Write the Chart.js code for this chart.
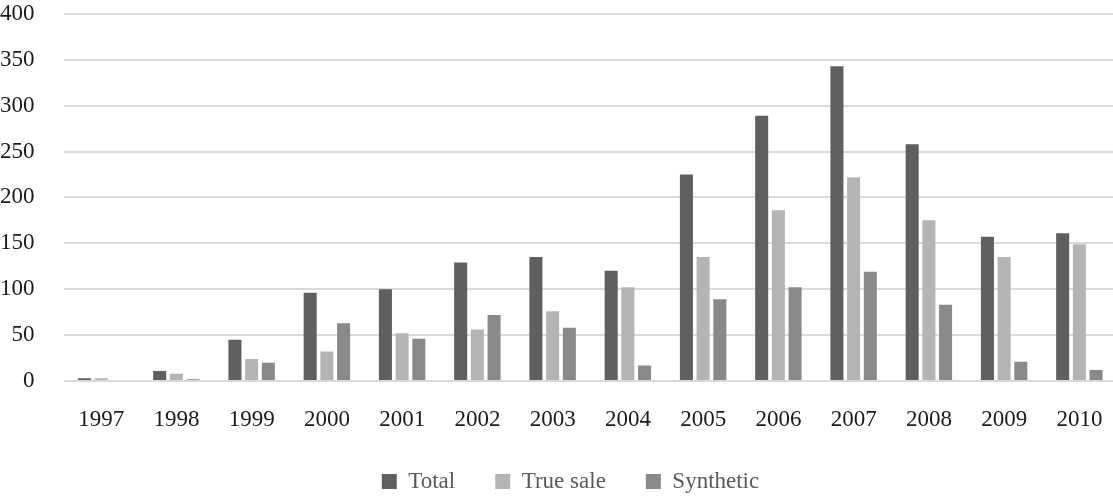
<!DOCTYPE html>
<html>
<head>
<meta charset="utf-8">
<script src="https://cdn.jsdelivr.net/npm/chart.js@4/dist/chart.umd.min.js"></script>
<style>
  html, body { margin: 0; padding: 0; background: #ffffff; overflow: hidden; }
  #wrap { position: absolute; left: 0; top: 0; width: 1117px; height: 503px; }
</style>
</head>
<body>
<div id="wrap"><canvas id="chart"></canvas></div>
<script>
// Issuance by year (number of deals)
const years = ['1997','1998','1999','2000','2001','2002','2003','2004','2005','2006','2007','2008','2009','2010'];
const total     = [3, 11, 45, 96, 100, 129, 135, 120, 225, 289, 343, 258, 157, 161];
const trueSale  = [3, 8, 24, 32, 52, 56, 76, 102, 135, 186, 222, 175, 135, 149];
const synthetic = [0, 2, 20, 63, 46, 72, 58, 17, 89, 102, 119, 83, 21, 12];
const yTicks    = [0, 50, 100, 150, 200, 250, 300, 350, 400];

const FONT = "'Liberation Serif', 'Times New Roman', serif";
const CLEAR = 'rgba(0,0,0,0)';

// Nudge the legend row so it sits centred under the plot area
const legendShift = {
  id: 'legendShift',
  afterLayout(chart) {
    const lg = chart.legend;
    if (lg) { lg.left += 12; lg.right += 12; }
  }
};

new Chart(document.getElementById('chart'), {
  type: 'bar',
  data: {
    labels: years,
    datasets: [
      { label: 'Total',     data: total,     backgroundColor: '#5f5f5f' },
      { label: 'True sale', data: trueSale,  backgroundColor: '#b4b4b4' },
      { label: 'Synthetic', data: synthetic, backgroundColor: '#898989' }
    ]
  },
  options: {
    responsive: true,
    maintainAspectRatio: false,
    animation: false,
    devicePixelRatio: 1,
    datasets: { bar: { barPercentage: 0.78, categoryPercentage: 0.666 } },
    layout: { padding: 0 },
    plugins: {
      tooltip: { enabled: false },
      legend: {
        position: 'bottom',
        labels: {
          boxWidth: 15,
          boxHeight: 15,
          padding: 40,
          color: '#595959',
          font: { family: FONT, size: 23 }
        }
      }
    },
    scales: {
      x: {
        grid: { display: true, drawOnChartArea: false, drawTicks: true, tickLength: 25, tickColor: CLEAR, color: CLEAR },
        border: { display: false },
        ticks: { color: '#1a1a1a', padding: 0, font: { family: FONT, size: 23 }, maxRotation: 0, autoSkip: false },
        afterFit(scale) { scale.height = 49; }
      },
      y: {
        min: 0,
        max: 400,
        afterBuildTicks(scale) { scale.ticks = yTicks.map(v => ({ value: v })); },
        grid: { color: '#d9d9d9', lineWidth: 2, drawTicks: true, tickLength: 29, tickColor: CLEAR },
        border: { display: false },
        ticks: { color: '#1a1a1a', padding: 0, font: { family: FONT, size: 23 } }
      }
    }
  },
  plugins: [legendShift]
});
</script>
</body>
</html>
